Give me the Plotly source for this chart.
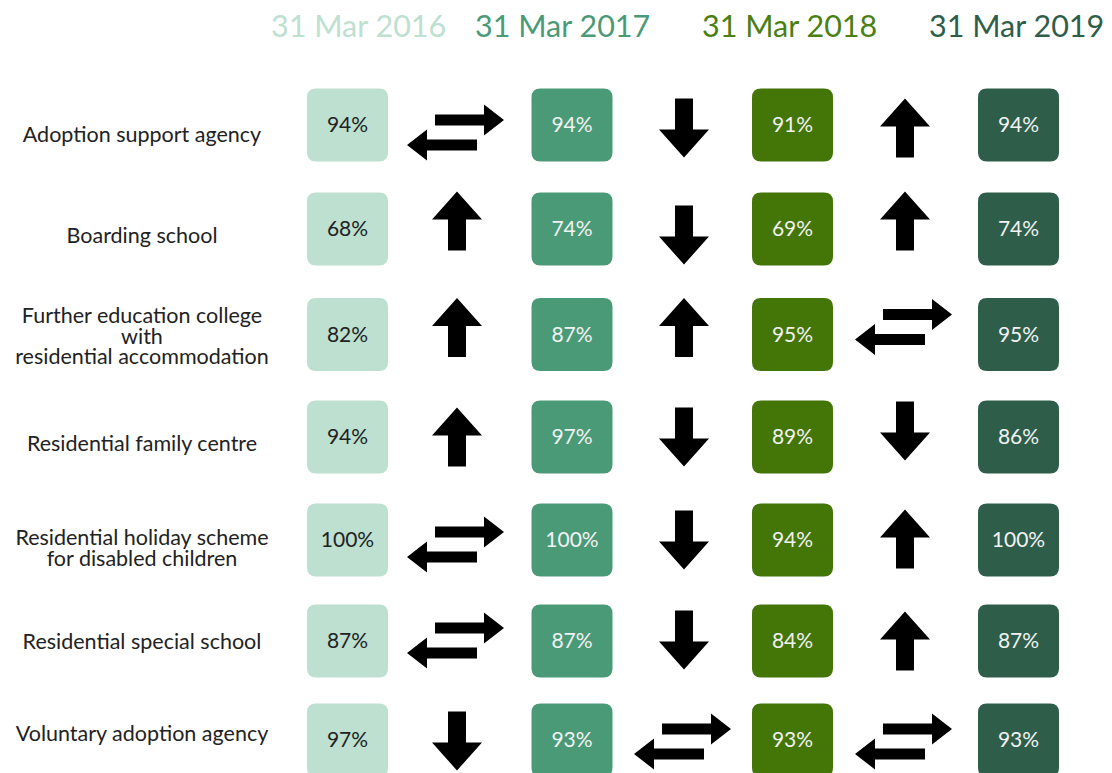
import plotly.graph_objects as go

# ---- data ----
categories = [
    "Adoption support agency",
    "Boarding school",
    "Further education college\nwith\nresidential accommodation",
    "Residential family centre",
    "Residential holiday scheme\nfor disabled children",
    "Residential special school",
    "Voluntary adoption agency",
]
periods = ["31 Mar 2016", "31 Mar 2017", "31 Mar 2018", "31 Mar 2019"]
v2016 = [94, 68, 82, 94, 100, 87, 97]
v2017 = [94, 74, 87, 97, 100, 87, 93]
v2018 = [91, 69, 95, 89, 94, 84, 93]
v2019 = [94, 74, 95, 86, 100, 87, 93]
series = [v2016, v2017, v2018, v2019]

# ---- style / layout ----
W, H = 1112, 773
OFF = 8  # default page body margin
box_colors = ["#bde0d0", "#4a9a78", "#437507", "#2e5e4a"]
header_colors = ["#bde0d0", "#4a9a78", "#4a7f12", "#2e5e4a"]
text_colors = ["#222222", "#f2f2f2", "#f2f2f2", "#f2f2f2"]
col_x = [347.5, 572, 792.5, 1018.5]
row_y = [125, 229, 334.5, 437, 540, 641, 740]
label_dy = [10, 7, 2, 7, 8, 1, -6]
arrow_dy = [
    [7, -8, -7, 0, 4, -1, 1],
    [3, 6, -7, 0, 0, -1, 1],
    [3, -8, -8, -6, -1, 0, 1],
]
arrow_x = [457, 684, 905]
header_x = [358.5, 562, 789, 1016]
header_y = 25
label_x = 142
line_gap = 20.5
box_w, box_h, rad = 81, 73, 9
FONT = "Lato, 'Open Sans', sans-serif"


def rounded_rect(cx, cy, w, h, r):
    x0, x1 = cx - w / 2, cx + w / 2
    y0, y1 = cy - h / 2, cy + h / 2
    return (f"M{x0 + r},{y0} L{x1 - r},{y0} Q{x1},{y0} {x1},{y0 + r} "
            f"L{x1},{y1 - r} Q{x1},{y1} {x1 - r},{y1} L{x0 + r},{y1} "
            f"Q{x0},{y1} {x0},{y1 - r} L{x0},{y0 + r} Q{x0},{y0} {x0 + r},{y0} Z")


def v_arrow(cx, cy, sign):
    # sign=-1 points up (screen y decreases), +1 points down
    hw, sw, th, hh = 25, 9, 59, 28
    tip = cy + sign * th / 2
    base = tip - sign * hh
    tail = cy - sign * th / 2
    return (f"M{cx},{tip} L{cx + hw},{base} L{cx + sw},{base} L{cx + sw},{tail} "
            f"L{cx - sw},{tail} L{cx - sw},{base} L{cx - hw},{base} Z")


def h_arrow(x_tail, x_tip, cy, head_len=20, hh=15.5, sh=5.5):
    d = 1 if x_tip > x_tail else -1
    hb = x_tip - d * head_len
    return (f"M{x_tip},{cy} L{hb},{cy - hh} L{hb},{cy - sh} L{x_tail},{cy - sh} "
            f"L{x_tail},{cy + sh} L{hb},{cy + sh} L{hb},{cy + hh} Z")


def swap_arrow(cx, cy):
    top = h_arrow(cx - 20, cx + 49, cy - 12)
    bot = h_arrow(cx + 22, cx - 48, cy + 13)
    return [top, bot]


shapes = []
for ci, vals in enumerate(series):
    for ri, v in enumerate(vals):
        shapes.append(dict(type="path", xref="x", yref="y",
                           path=rounded_rect(col_x[ci], row_y[ri], box_w, box_h, rad),
                           fillcolor=box_colors[ci], line=dict(width=0), layer="below"))

for gi in range(len(series) - 1):
    ax = arrow_x[gi]
    for ri in range(len(categories)):
        a, b = series[gi][ri], series[gi + 1][ri]
        cy = row_y[ri] + arrow_dy[gi][ri]
        if b > a:
            paths = [v_arrow(ax, cy, -1)]
        elif b < a:
            paths = [v_arrow(ax, cy, 1)]
        else:
            paths = swap_arrow(ax - 2, cy)
        for p in paths:
            shapes.append(dict(type="path", xref="x", yref="y", path=p,
                               fillcolor="black", line=dict(width=0)))

fig = go.Figure()
for ci, vals in enumerate(series):
    fig.add_trace(go.Scatter(
        x=[col_x[ci]] * len(vals), y=[y + 2 for y in row_y],
        mode="text", text=[f"{v}%" for v in vals],
        textfont=dict(family=FONT, size=21, color=text_colors[ci]),
        hoverinfo="skip", showlegend=False))

lx, ly, lt = [], [], []
for ri, cat in enumerate(categories):
    lines = cat.split("\n")
    n = len(lines)
    for li, line in enumerate(lines):
        lx.append(label_x)
        ly.append(row_y[ri] + label_dy[ri] + 2 + (li - (n - 1) / 2) * line_gap)
        lt.append(line)
fig.add_trace(go.Scatter(
    x=lx, y=ly, mode="text", text=lt,
    textfont=dict(family=FONT, size=21.5, color="#222222"),
    hoverinfo="skip", showlegend=False))

for ci, p in enumerate(periods):
    fig.add_annotation(x=header_x[ci], y=header_y, xref="x", yref="y",
                       text=p, showarrow=False,
                       font=dict(family=FONT, size=30.5, color=header_colors[ci]))

fig.update_layout(
    width=W - OFF, height=H - OFF, margin=dict(l=0, r=0, t=0, b=0),
    paper_bgcolor="white", plot_bgcolor="white", shapes=shapes,
    xaxis=dict(range=[OFF, W], visible=False, fixedrange=True),
    yaxis=dict(range=[H, OFF], visible=False, fixedrange=True),
)
fig.write_html("out.html")
